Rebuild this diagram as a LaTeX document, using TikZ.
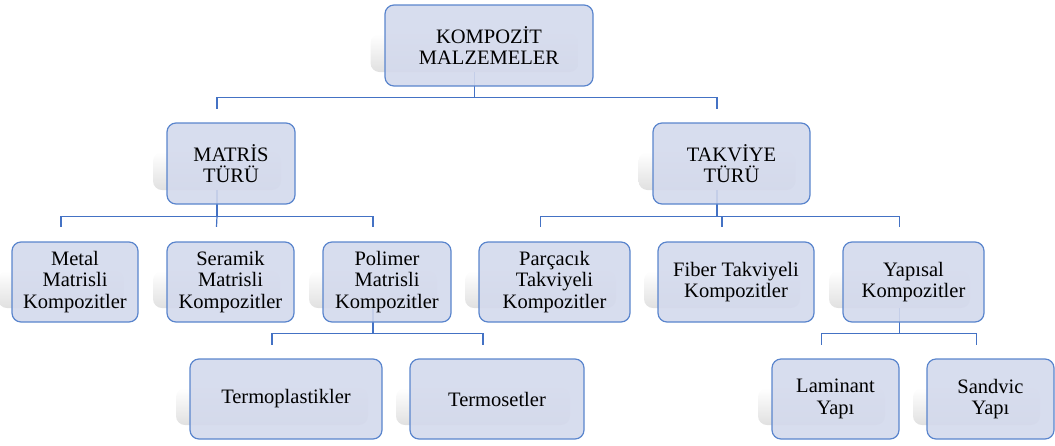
\documentclass[tikz,border=0pt]{standalone}
\usepackage{fontspec}
\setmainfont{Liberation Serif}
\usetikzlibrary{calc}

\definecolor{kutudolgu}{HTML}{D3D9EC}
\definecolor{kutucizgi}{HTML}{5A85CD}
\definecolor{hatrenk}{HTML}{4472C4}

\tikzset{
  kutu/.style={draw=kutucizgi, line width=1.2pt, fill=kutudolgu, fill opacity=0.9,
    text opacity=1, rounded corners=9pt, align=center, inner sep=2pt,
    font=\fontsize{20.5}{21.5}\selectfont},
  golge/.style={rounded corners=9pt, top color=white, bottom color=black!12,
    inner sep=0pt},
  baglanti/.style={draw=hatrenk, line width=1.2pt}
}

\begin{document}
\begin{tikzpicture}[x=1pt, y=-1pt]

\useasboundingbox (0,0) rectangle (1055,445);

% Golgeler
\node[golge, minimum width=208pt, minimum height=38pt] (ks) at (474.5,53) {};
\node[golge, minimum width=128pt, minimum height=38pt] (ms) at (217,171) {};
\node[golge, minimum width=157pt, minimum height=38pt] (ts) at (717,171) {};
\node[golge, minimum width=126pt, minimum height=37pt] (a1s) at (61,289.5) {};
\node[golge, minimum width=127pt, minimum height=37pt] (a2s) at (216.5,289.5) {};
\node[golge, minimum width=128pt, minimum height=37pt] (a3s) at (373,289.5) {};
\node[golge, minimum width=151pt, minimum height=37pt] (b1s) at (540.5,289.5) {};
\node[golge, minimum width=156pt, minimum height=37pt] (b2s) at (722,289.5) {};
\node[golge, minimum width=141pt, minimum height=37pt] (b3s) at (899.5,289.5) {};
\node[golge, minimum width=192pt, minimum height=37pt] (c1s) at (272,406.5) {};
\node[golge, minimum width=174pt, minimum height=37pt] (c2s) at (483,406.5) {};
\node[golge, minimum width=127pt, minimum height=37pt] (d1s) at (821.5,406.5) {};
\node[golge, minimum width=127pt, minimum height=37pt] (d2s) at (976.5,406.5) {};

% Baglantilar: kok
\draw[baglanti] (ks.south) -- ++(0,25) coordinate (kb);
\draw[baglanti] ($(ms.north)+(0,-43)$) |- (kb) -| ($(ts.north)+(0,-43)$);

% Baglantilar: matris turu
\draw[baglanti] (ms.south) -- ++(0,26) coordinate (mb);
\draw[baglanti] ($(a1s.north)+(0,-44)$) |- (mb) -| ($(a3s.north)+(0,-44)$);
\draw[baglanti] ($(a2s.north)+(0,-44)$) -- (mb);

% Baglantilar: takviye turu
\draw[baglanti] (ts.south) -- ++(0,26) coordinate (tb);
\draw[baglanti] ($(b1s.north)+(0,-44)$) |- (tb) -| ($(b3s.north)+(0,-44)$);
\draw[baglanti] ($(b2s.north)+(0,-44)$) |- (tb);

% Baglantilar: polimer
\draw[baglanti] (a3s.south) -- ++(0,25) coordinate (pb);
\draw[baglanti] ($(c1s.north)+(0,-43)$) |- (pb) -| ($(c2s.north)+(0,-43)$);

% Baglantilar: yapisal
\draw[baglanti] (b3s.south) -- ++(0,25) coordinate (yb);
\draw[baglanti] ($(d1s.north)+(0,-43)$) |- (yb) -| ($(d2s.north)+(0,-43)$);

% Kutular
\node[kutu, minimum width=208pt, minimum height=81pt] (k) at (489,45.5) {KOMPOZİT\\MALZEMELER};
\node[kutu, minimum width=128pt, minimum height=81pt] (m) at (231,163.5) {MATRİS\\TÜRÜ};
\node[kutu, minimum width=157pt, minimum height=81pt] (t) at (731.5,163.5) {TAKVİYE\\TÜRÜ};

\node[kutu, minimum width=126pt, minimum height=80pt] (a1) at (75,282) {Metal\\Matrisli\\Kompozitler};
\node[kutu, minimum width=127pt, minimum height=80pt] (a2) at (230.5,282) {Seramik\\Matrisli\\Kompozitler};
\node[kutu, minimum width=128pt, minimum height=80pt] (a3) at (387,282) {Polimer\\Matrisli\\Kompozitler};
\node[kutu, minimum width=151pt, minimum height=80pt] (b1) at (554.5,282) {Parçacık\\Takviyeli\\Kompozitler};
\node[kutu, minimum width=156pt, minimum height=80pt] (b2) at (736,282) {Fiber Takviyeli\\Kompozitler};
\node[kutu, minimum width=141pt, minimum height=80pt] (b3) at (913.5,282) {Yapısal\\Kompozitler};

\node[kutu, minimum width=192pt, minimum height=80pt] (c1) at (286,399) {Termoplastikler};
\node[kutu, minimum width=174pt, minimum height=80pt] (c2) at (497,399) {Termosetler};
\node[kutu, minimum width=127pt, minimum height=80pt] (d1) at (835.5,399) {Laminant\\Yapı};
\node[kutu, minimum width=127pt, minimum height=80pt] (d2) at (990.5,399) {Sandvic\\Yapı};

\end{tikzpicture}
\end{document}
